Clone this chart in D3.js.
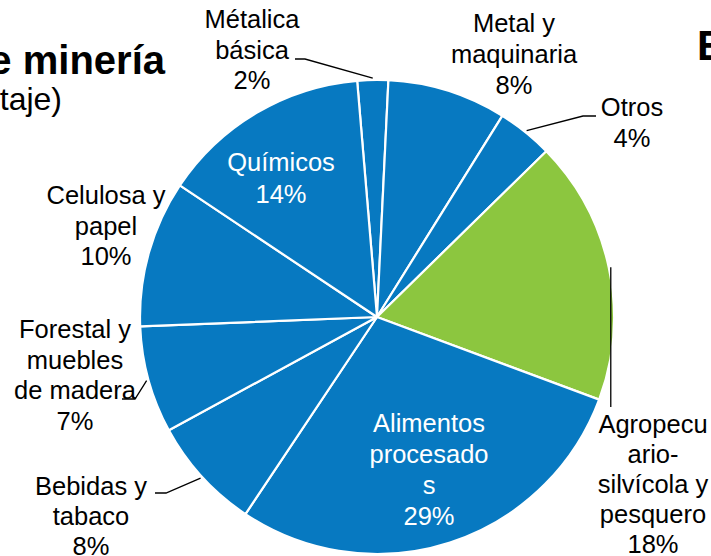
<!DOCTYPE html>
<html>
<head>
<meta charset="utf-8">
<script src="https://cdn.jsdelivr.net/npm/d3@7"></script>
<style>
  body { margin: 0; background: #fff; }
  svg { display: block; font-family: "Liberation Sans", Arial, sans-serif; }
</style>
</head>
<body>
<svg id="chart"></svg>
<script>
// sectores (orden en el sentido del reloj)
const sectors = ["Métalica básica", "Metal y maquinaria", "Otros", "Agropecuario-silvícola y pesquero",
                 "Alimentos procesados", "Bebidas y tabaco", "Forestal y muebles de madera",
                 "Celulosa y papel", "Químicos"];
const shares = [2.1, 8.1, 3.8, 18.0, 28.7, 7.7, 7.3, 10.0, 14.3];
const shareLabels = ["2%", "8%", "4%", "18%", "29%", "8%", "7%", "10%", "14%"];
const labelLines = [
  ["Métalica", "básica"],
  ["Metal y", "maquinaria"],
  ["Otros"],
  ["Agropecu", "ario-", "silvícola y", "pesquero"],
  ["Alimentos", "procesado", "s"],
  ["Bebidas y", "tabaco"],
  ["Forestal y", "muebles", "de madera"],
  ["Celulosa y", "papel"],
  ["Químicos"]
];
const sliceColors = ["#0779c1", "#0779c1", "#0779c1", "#8cc63f", "#0779c1",
                     "#0779c1", "#0779c1", "#0779c1", "#0779c1"];

// donde va cada etiqueta (x centro, primera linea base, interlineado, color, codo del conector)
const labelLayout = [
  {x: 252, y: 28,  dy: 30.5, fill: "#000", elbow: [[305, 59], [295, 59]]},
  {x: 514, y: 32,  dy: 31,   fill: "#000", elbow: null},
  {x: 632, y: 116, dy: 31,   fill: "#000", elbow: [[583, 116], [596, 116]]},
  {x: 653, y: 433, dy: 30,   fill: "#000", elbow: "down"},
  {x: 429, y: 432, dy: 31,   fill: "#fff", elbow: null},
  {x: 91,  y: 495, dy: 30,   fill: "#000", elbow: [[166, 493], [155, 493]]},
  {x: 75,  y: 338, dy: 30.5, fill: "#000", elbow: [[135, 399], [122, 399]]},
  {x: 106, y: 204, dy: 30.5, fill: "#000", elbow: null},
  {x: 281, y: 171, dy: 31.5, fill: "#fff", elbow: null}
];

const width = 711, height = 556;
const cx = 377, cy = 317, radius = 237;

const svg = d3.select("#chart").attr("width", width).attr("height", height);

// titulos recortados
svg.append("text").attr("x", 165).attr("y", 74).attr("text-anchor", "end")
  .attr("font-size", 40).attr("font-weight", "bold").text("de minería");
svg.append("text").attr("x", 62).attr("y", 110).attr("text-anchor", "end")
  .attr("font-size", 32).text("(porcentaje)");
svg.append("text").attr("x", 697).attr("y", 60)
  .attr("font-size", 42).attr("font-weight", "bold").text("E");

const startA = -4.8 * Math.PI / 180;
const pie = d3.pie().sort(null).value(d => d).startAngle(startA).endAngle(startA + 2 * Math.PI);
const arcs = pie(shares);
const arc = d3.arc().innerRadius(0).outerRadius(radius);

const g = svg.append("g").attr("transform", `translate(${cx},${cy})`);
g.selectAll("path")
  .data(arcs)
  .join("path")
  .attr("d", arc)
  .attr("fill", (d, i) => sliceColors[i])
  .attr("stroke", "#fff")
  .attr("stroke-width", 2.2)
  .attr("stroke-linejoin", "round");

// conectores
arcs.forEach((d, i) => {
  const lay = labelLayout[i];
  if (!lay.elbow) return;
  const mid = (d.startAngle + d.endAngle) / 2;
  const p0 = [cx + Math.sin(mid) * (radius + 2), cy - Math.cos(mid) * (radius + 2)];
  let pts;
  if (lay.elbow === "down") pts = [p0, [p0[0], 407]];
  else pts = [p0].concat(lay.elbow);
  svg.append("path")
    .attr("d", d3.line()(pts))
    .attr("fill", "none")
    .attr("stroke", "#000")
    .attr("stroke-width", 1.3);
});

// etiquetas
arcs.forEach((d, i) => {
  const lay = labelLayout[i];
  const lines = labelLines[i].concat([shareLabels[i]]);
  const t = svg.append("text")
    .attr("text-anchor", "middle")
    .attr("font-size", 25.5)
    .attr("fill", lay.fill);
  lines.forEach((ln, k) => {
    t.append("tspan").attr("x", lay.x).attr("y", lay.y + k * lay.dy).text(ln);
  });
});
</script>
</body>
</html>
